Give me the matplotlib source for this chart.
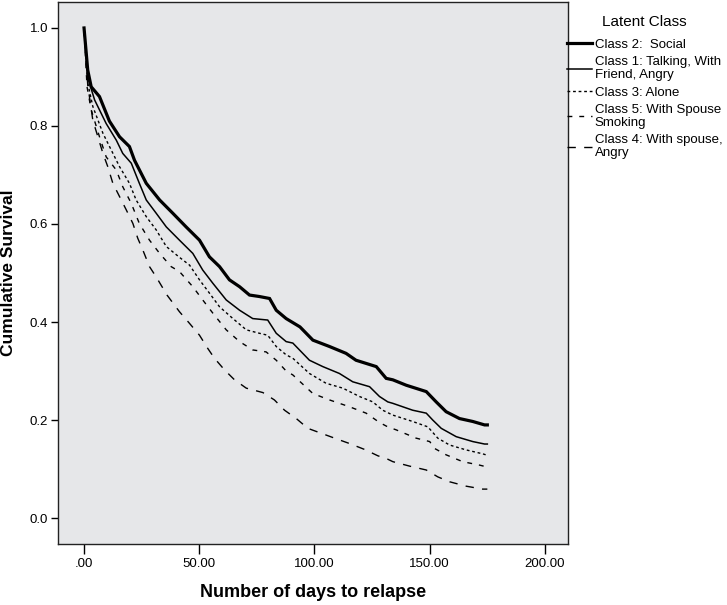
import numpy as np
import matplotlib
matplotlib.use('Agg')
import matplotlib.pyplot as plt
from matplotlib.lines import Line2D

plt.rcParams['font.family'] = ['Liberation Sans', 'DejaVu Sans']

# survival curves (days, cumulative survival)
t_c2 = [0, 1.6, 3.1, 6.7, 11, 15.4, 19.7, 21.9, 27, 32.8, 38.5, 44.3, 50.1, 54.4, 58.8, 63.1, 67.5, 71.8, 76.1,
        80.5, 83.4, 87.7, 93.7, 99.3, 106.5, 113.7, 118, 126.8, 131.1, 134, 139.8, 148.5, 152.8, 157.1, 162.9,
        168.7, 173.8, 175]
s_c2 = [1.0, 0.914, 0.88, 0.86, 0.81, 0.778, 0.758, 0.73, 0.683, 0.649, 0.622, 0.594, 0.567, 0.533, 0.513, 0.486,
        0.472, 0.455, 0.452, 0.448, 0.424, 0.407, 0.39, 0.363, 0.35, 0.336, 0.322, 0.309, 0.285, 0.282, 0.271,
        0.258, 0.237, 0.217, 0.203, 0.197, 0.19, 0.19]

t_c1 = [0, 1.5, 4.6, 9.6, 14, 16.8, 20.5, 24, 27, 31.3, 35.7, 41.4, 47.2, 51.5, 55.9, 61.7, 67.5, 73.2, 79.7,
        83.4, 87.7, 90.6, 97.8, 103.6, 110.8, 116.6, 123.9, 128.2, 131.8, 134, 142.6, 148.5, 151.3, 155, 161.5,
        168.7, 173.8, 175]
s_c1 = [1.0, 0.9, 0.853, 0.805, 0.771, 0.744, 0.724, 0.683, 0.649, 0.622, 0.594, 0.567, 0.54, 0.506, 0.479, 0.445,
        0.424, 0.407, 0.404, 0.377, 0.36, 0.357, 0.322, 0.309, 0.295, 0.278, 0.268, 0.248, 0.237, 0.234, 0.22,
        0.214, 0.2, 0.183, 0.166, 0.156, 0.151, 0.151]

t_c3 = [0, 1.5, 3.8, 8.2, 11.8, 15.4, 19.7, 22.6, 27, 31.3, 35.7, 41.4, 45.8, 50.1, 54.4, 58.8, 64.6, 70.4, 76.1,
        79.7, 83.4, 87.7, 90.6, 97.8, 105, 112.3, 119.5, 125.3, 129.6, 134, 142.6, 149.2, 153.5, 158.6, 165.8,
        173, 175]
s_c3 = [1.0, 0.89, 0.84, 0.785, 0.751, 0.717, 0.683, 0.649, 0.615, 0.588, 0.554, 0.532, 0.516, 0.486, 0.459, 0.431,
        0.407, 0.384, 0.377, 0.373, 0.35, 0.333, 0.326, 0.295, 0.275, 0.265, 0.248, 0.237, 0.22, 0.21, 0.197,
        0.186, 0.163, 0.149, 0.139, 0.131, 0.128]

t_c5 = [0, 1.3, 3.1, 6.7, 9.6, 14, 16.8, 20.5, 24, 28.4, 32.8, 37.8, 41.4, 47.2, 51.5, 55.9, 61.7, 67.5, 73.2,
        79, 83.4, 87.7, 90.6, 99.3, 106.5, 115.2, 122.4, 128.2, 131.8, 135.4, 144.1, 150, 152.1, 157.1, 164.3,
        171.6, 175]
s_c5 = [1.0, 0.88, 0.833, 0.778, 0.737, 0.71, 0.676, 0.642, 0.601, 0.567, 0.54, 0.513, 0.503, 0.472, 0.445, 0.418,
        0.384, 0.36, 0.343, 0.339, 0.322, 0.3, 0.292, 0.254, 0.241, 0.227, 0.214, 0.195, 0.186, 0.18, 0.163,
        0.156, 0.142, 0.129, 0.115, 0.108, 0.104]

t_c4 = [0, 1.6, 3.8, 6, 8.2, 10.3, 12.5, 15.4, 18.3, 21.2, 23.3, 25.5, 28.4, 31.3, 36, 41.4, 45.8, 50.1, 53.7,
        56.6, 61, 65.3, 70.4, 77.6, 82.6, 87, 92.1, 97.1, 102.9, 108.7, 115.2, 121.7, 127.5, 131.8, 134, 141.2,
        148.5, 153.5, 158.6, 165.8, 173, 175]
s_c4 = [1.0, 0.884, 0.812, 0.778, 0.744, 0.717, 0.683, 0.656, 0.629, 0.601, 0.571, 0.547, 0.513, 0.492, 0.455,
        0.421, 0.397, 0.373, 0.346, 0.326, 0.302, 0.282, 0.265, 0.256, 0.241, 0.22, 0.203, 0.183, 0.173, 0.163,
        0.152, 0.14, 0.127, 0.12, 0.115, 0.106, 0.098, 0.084, 0.074, 0.065, 0.059, 0.059]

labels = ['Class 2:  Social', 'Class 1: Talking, With\nFriend, Angry', 'Class 3: Alone',
          'Class 5: With Spouse\nSmoking', 'Class 4: With spouse,\nAngry']
x_ticks = [0, 50, 100, 150, 200]
x_ticklabels = ['.00', '50.00', '100.00', '150.00', '200.00']
y_ticks = [0.0, 0.2, 0.4, 0.6, 0.8, 1.0]

series = [(t_c2, s_c2), (t_c1, s_c1), (t_c3, s_c3), (t_c5, s_c5), (t_c4, s_c4)]
styles = [dict(lw=2.3, ls='-'),
          dict(lw=1.1, ls='-'),
          dict(lw=1.0, ls=(0, (2, 2))),
          dict(lw=1.0, ls=(0, (3.5, 5))),
          dict(lw=1.0, ls=(0, (6, 6)))]

fig = plt.figure(figsize=(7.27, 6.05), dpi=100)
ax = fig.add_axes([58/727, 1-544/605, 510/727, 542/605])
ax.set_facecolor('#e6e7e9')

handles = []
for (t, s), st in zip(series, styles):
    ax.plot(t, s, color='black', solid_joinstyle='miter', **st)
    handles.append(Line2D([], [], color='black', **st))

ax.set_xlim(-11.3, 210)
ax.set_ylim(-0.053, 1.053)
ax.set_xticks(x_ticks)
ax.set_xticklabels(x_ticklabels, fontsize=9.5)
ax.set_yticks(y_ticks)
ax.set_yticklabels(['%.1f' % v for v in y_ticks], fontsize=9.5)
ax.tick_params(axis='x', direction='out', length=7, width=1, pad=3)
ax.tick_params(axis='y', direction='out', length=5, width=1, pad=2)
for sp in ax.spines.values():
    sp.set_linewidth(1.0)
    sp.set_color('#222222')

ax.set_xlabel('Number of days to relapse', fontsize=13, fontweight='bold', labelpad=10)
ax.set_ylabel('Cumulative Survival', fontsize=12.5, fontweight='bold', labelpad=10)

leg = fig.legend(handles, labels, loc='upper left', bbox_to_anchor=(567/727, 1-15/605),
                 frameon=False, fontsize=9.5, title='Latent Class', title_fontsize=11,
                 handlelength=1.9, handletextpad=0.2, labelspacing=0.38, borderaxespad=0,
                 borderpad=0)
leg._legend_box.sep = 7
for txt in leg.get_texts():
    txt.set_linespacing(1.15)

plt.savefig('out.png', dpi=100)
